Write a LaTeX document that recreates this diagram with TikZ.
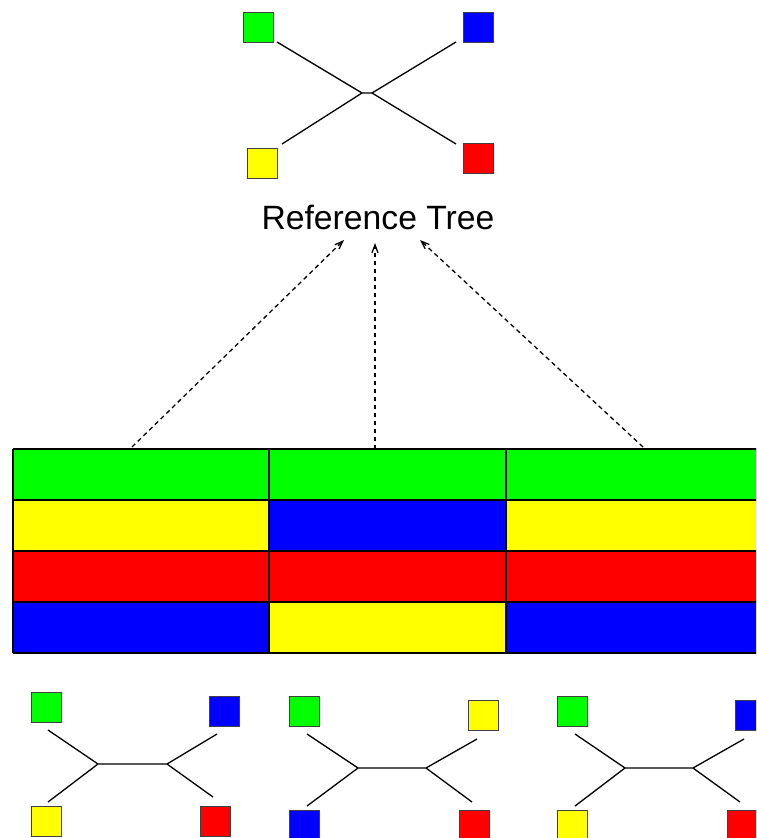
\documentclass[tikz,border=0pt]{standalone}
\usepackage{fontspec}
\setmainfont{Liberation Sans}
\usetikzlibrary{arrows.meta}
\definecolor{cg}{RGB}{0,255,0}
\definecolor{cb}{RGB}{0,0,255}
\definecolor{cy}{RGB}{255,255,0}
\definecolor{cr}{RGB}{255,0,0}
\begin{document}
\begin{tikzpicture}[x=1pt,y=-1pt,
  leaf/.style={draw=black!75, line width=0.9pt, minimum size=30pt, inner sep=0pt, outer sep=0pt},
  edge/.style={line width=1.3pt, black},
  cell/.style={draw=black, line width=1.4pt},
  ref/.style={dashed, dash pattern=on 4.5pt off 3.5pt, line width=1.3pt, -{Straight Barb[length=8pt,width=6pt]}}]
\useasboundingbox (0,0) rectangle (756,838);
\clip (0,0) rectangle (756,838);

% ---- reference tree ----
\node[leaf, fill=cg] (tg) at (258,27) {};
\node[leaf, fill=cb] (tb) at (478.5,27) {};
\node[leaf, fill=cy] (ty) at (262,163) {};
\node[leaf, fill=cr] (tr) at (478.5,158) {};
\coordinate (tL) at (362,93);
\coordinate (tR) at (372,93);
\coordinate (tge) at (277,42);
\coordinate (tbe) at (456,42);
\coordinate (tye) at (282,144);
\coordinate (tre) at (456,144);
\draw[edge] (tge) -- (tL) -- (tR) -- (tbe);
\draw[edge] (tye) -- (tL);
\draw[edge] (tR) -- (tre);

\node[anchor=base, font=\fontsize{33.7}{40}\selectfont, inner sep=0pt] (title) at (378,229) {Reference Tree};

% ---- table ----
\fill[cg] (13,449) rectangle (269,500);
\fill[cy] (13,500) rectangle (269,551);
\fill[cr] (13,551) rectangle (269,602);
\fill[cb] (13,602) rectangle (269,653);
\fill[cg] (269,449) rectangle (506,500);
\fill[cb] (269,500) rectangle (506,551);
\fill[cr] (269,551) rectangle (506,602);
\fill[cy] (269,602) rectangle (506,653);
\fill[cg] (506,449) rectangle (780,500);
\fill[cy] (506,500) rectangle (780,551);
\fill[cr] (506,551) rectangle (780,602);
\fill[cb] (506,602) rectangle (780,653);
\foreach \y in {449,500,551,602,653} \draw[cell] (13,\y) -- (780,\y);
\foreach \x in {13,269,506} \draw[cell] (\x,449) -- (\x,653);

% ---- arrows ----
\coordinate (a1s) at (132,447);
\coordinate (a2s) at (375,449);
\coordinate (a3s) at (643,447);
\coordinate (a1e) at (344,240);
\coordinate (a2e) at (375,243);
\coordinate (a3e) at (420,240);
\draw[ref] (a1s) -- (a1e);
\draw[ref] (a2s) -- (a2e);
\draw[ref] (a3s) -- (a3e);

% ---- bottom tree 1 ----
\node[leaf, fill=cg] (g1) at (46,707) {};
\node[leaf, fill=cb] (b1) at (224,711) {};
\node[leaf, fill=cy] (y1) at (46,821) {};
\node[leaf, fill=cr] (r1) at (215,821) {};
\coordinate (L1) at (98,764);
\coordinate (R1) at (167,764);
\draw[edge] (48,730) coordinate (g1e) -- (L1) -- (R1) -- (217,734) coordinate (b1e);
\draw[edge] (48,802) coordinate (y1e) -- (L1);
\draw[edge] (R1) -- (213,797) coordinate (r1e);

% ---- bottom tree 2 ----
\node[leaf, fill=cg] (g2) at (304.5,711) {};
\node[leaf, fill=cy] (y2) at (483,715) {};
\node[leaf, fill=cb] (b2) at (304.5,825) {};
\node[leaf, fill=cr] (r2) at (474.5,825) {};
\coordinate (L2) at (358,768);
\coordinate (R2) at (426,768);
\draw[edge] (307,734) coordinate (g2e) -- (L2) -- (R2) -- (477,739) coordinate (y2e);
\draw[edge] (307,806) coordinate (b2e) -- (L2);
\draw[edge] (R2) -- (472,802) coordinate (r2e);

% ---- bottom tree 3 ----
\node[leaf, fill=cg] (g3) at (572,711) {};
\node[leaf, fill=cb] (b3) at (750,715) {};
\node[leaf, fill=cy] (y3) at (572,825) {};
\node[leaf, fill=cr] (r3) at (742,825) {};
\coordinate (L3) at (625,768);
\coordinate (R3) at (693,768);
\draw[edge] (575,734) coordinate (g3e) -- (L3) -- (R3) -- (744,739) coordinate (b3e);
\draw[edge] (575,806) coordinate (y3e) -- (L3);
\draw[edge] (R3) -- (740,802) coordinate (r3e);
\end{tikzpicture}
\end{document}
